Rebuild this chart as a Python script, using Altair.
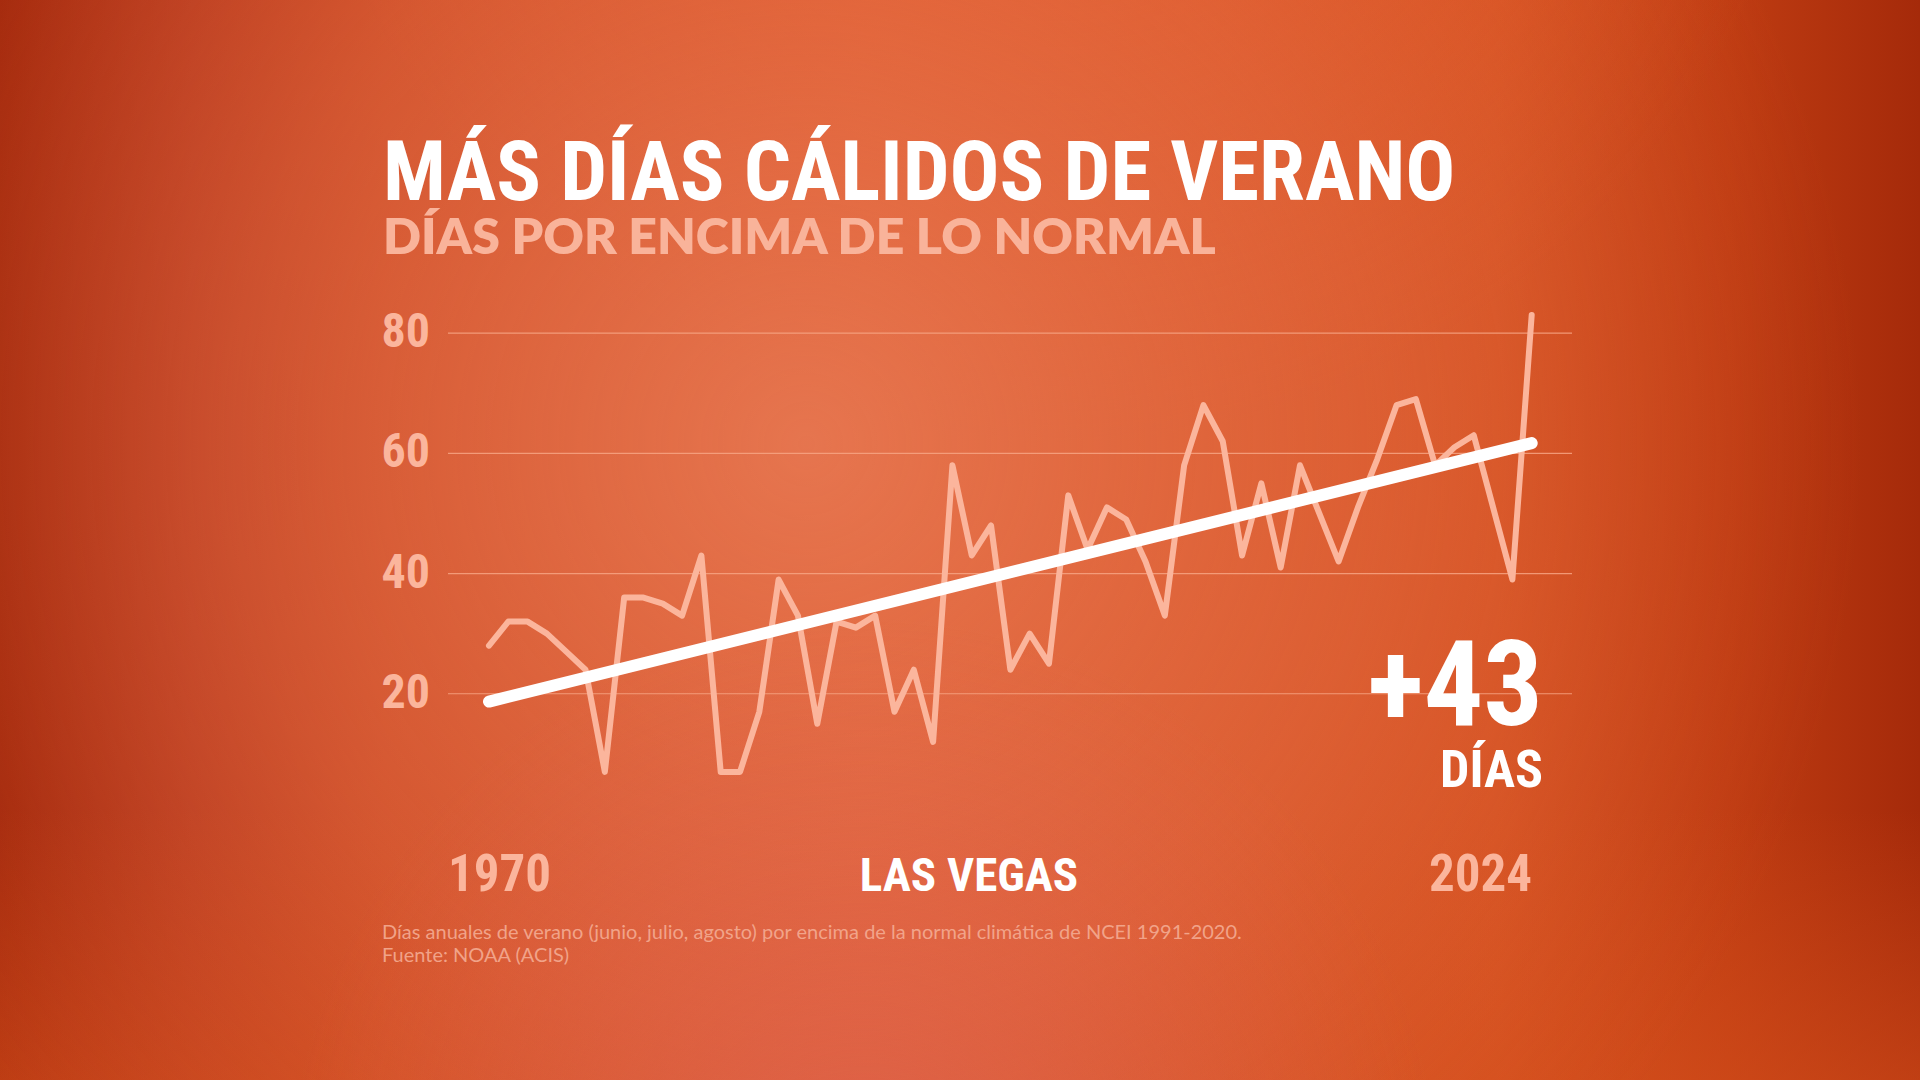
import altair as alt
import pandas as pd

# Summer days above the 1991-2020 normal, Las Vegas
years = list(range(1970, 2025))
days_above = [
    28, 32, 32, 30, 27, 24, 7, 36, 36, 35,
    33, 43, 7, 7, 17, 39, 33, 15, 32, 31,
    33, 17, 24, 12, 58, 43, 48, 24, 30, 25,
    53, 44, 51, 49, 42, 33, 58, 68, 62, 43,
    55, 41, 58, 50, 42, 51, 59, 68, 69, 58,
    61, 63, 51, 39, 83,
]
# Trend line: start value and the total gain shown in the callout
trend_years = [1970, 2024]
trend_start = 18.7
trend_gain = 43
trend_values = [trend_start, trend_start + trend_gain]

y_ticks = [20, 40, 60, 80]

title_text = "MÁS DÍAS CÁLIDOS DE VERANO"
subtitle_text = "DÍAS POR ENCIMA DE LO NORMAL"
place_text = "LAS VEGAS"
gain_text = f"+{trend_gain}"
unit_text = "DÍAS"
note_lines = [
    "Días anuales de verano (junio, julio, agosto) por encima de la normal climática de NCEI 1991-2020.",
    "Fuente: NOAA (ACIS)",
]

W, H = 1124, 511
PAD_L, PAD_T = 448, 303
COND = "Roboto Condensed, Liberation Sans Narrow, DejaVu Sans Condensed, Roboto"
SALMON = "#fbb59c"

series = pd.DataFrame({"year": years, "days": days_above})
trend = pd.DataFrame({"year": trend_years, "days": trend_values})
ticks = pd.DataFrame({"v": y_ticks, "t": [str(v) for v in y_ticks]})

x_scale = alt.Scale(domain=[1967.877, 2026.087], nice=False, zero=False)
y_scale = alt.Scale(domain=[0, 85], nice=False, zero=False)


def one(text):
    return pd.DataFrame({"t": [text]})


def backdrop(fill):
    return alt.Chart(one("")).mark_rect(fill=fill).encode(
        x=alt.value(-PAD_L), x2=alt.value(1920 - PAD_L),
        y=alt.value(-PAD_T), y2=alt.value(1080 - PAD_T),
    )


def stop(color, offset):
    return alt.GradientStop(color=color, offset=offset)


base_fill = alt.LinearGradient(
    gradient="linear", x1=0, y1=0, x2=1, y2=0,
    stops=[
        stop("#9e2408", 0),
        stop("#b4361a", 0.1),
        stop("#c8461f", 0.2),
        stop("#dc5a2c", 0.45),
        stop("#d4511f", 0.78),
        stop("#bf3c12", 0.9),
        stop("#a52a0a", 1),
    ],
)
bottom_fill = alt.LinearGradient(
    gradient="linear", x1=0, y1=0, x2=0, y2=1,
    stops=[
        stop("rgba(214,80,28,0)", 0.75),
        stop("rgba(214,80,28,0.55)", 1),
    ],
)
glow_fill = alt.RadialGradient(
    gradient="radial", x1=0.42, y1=0.45, x2=0.42, y2=0.45, r1=0, r2=0.55,
    stops=[
        stop("rgba(232,122,85,0.85)", 0),
        stop("rgba(228,108,70,0.45)", 0.55),
        stop("rgba(220,90,50,0)", 1),
    ],
)
top_fill = alt.RadialGradient(
    gradient="radial", x1=0.55, y1=0.05, x2=0.55, y2=0.05, r1=0, r2=0.4,
    stops=[
        stop("rgba(232,95,45,0.7)", 0),
        stop("rgba(232,95,45,0)", 1),
    ],
)
low_fill = alt.RadialGradient(
    gradient="radial", x1=0.45, y1=0.84, x2=0.45, y2=0.84, r1=0, r2=0.3,
    stops=[
        stop("rgba(224,102,88,0.65)", 0),
        stop("rgba(224,102,88,0)", 1),
    ],
)


def label(text, x, y, size, color, font=COND, weight="bold", align="left",
          baseline="alphabetic", opacity=1.0):
    return alt.Chart(one(text)).mark_text(
        font=font, fontSize=size, fontWeight=weight, color=color,
        align=align, baseline=baseline, opacity=opacity,
    ).encode(x=alt.value(x), y=alt.value(y), text="t:N")


grid = alt.Chart(ticks).mark_rule(
    color="#f7a584", strokeWidth=1.2, opacity=0.85
).encode(
    y=alt.Y("v:Q", scale=y_scale, axis=None),
    x=alt.value(0), x2=alt.value(W),
)

tick_labels = alt.Chart(ticks).mark_text(
    font=COND, fontSize=48, fontWeight="bold", color=SALMON,
    align="right", baseline="middle",
).encode(
    y=alt.Y("v:Q", scale=y_scale, axis=None),
    x=alt.value(-18),
    text="t:N",
)

line = alt.Chart(series).mark_line(
    color=SALMON, strokeWidth=6, strokeJoin="round", strokeCap="round"
).encode(
    x=alt.X("year:Q", scale=x_scale, axis=None),
    y=alt.Y("days:Q", scale=y_scale, axis=None),
)

trend_line = alt.Chart(trend).mark_line(
    color="white", strokeWidth=12, strokeCap="round"
).encode(
    x=alt.X("year:Q", scale=x_scale, axis=None),
    y=alt.Y("days:Q", scale=y_scale, axis=None),
)

layers = [
    backdrop(base_fill),
    backdrop(bottom_fill),
    backdrop(top_fill),
    backdrop(glow_fill),
    backdrop(low_fill),
    grid,
    tick_labels,
    line,
    trend_line,
    label(title_text, 383 - PAD_L, 200 - PAD_T, 83, "white"),
    label(subtitle_text, 383 - PAD_L, 254 - PAD_T, 50, "#f9b39a",
          font="Lato", weight=800),
    label("1970", 448 - PAD_L, 891 - PAD_T, 51, SALMON),
    label(place_text, 969 - PAD_L, 891 - PAD_T, 47, "white", align="center"),
    label("2024", 1532 - PAD_L, 891 - PAD_T, 51, SALMON, align="right"),
    label(gain_text, 1543 - PAD_L, 725 - PAD_T, 118, "white", align="right"),
    label(unit_text, 1543 - PAD_L, 787 - PAD_T, 52, "white", align="right"),
    label(note_lines[0], 382 - PAD_L, 939 - PAD_T, 20, "#f4ab92",
          font="Lato", weight="normal", opacity=0.9),
    label(note_lines[1], 382 - PAD_L, 962 - PAD_T, 20, "#f4ab92",
          font="Lato", weight="normal", opacity=0.9),
]

chart = alt.layer(*layers).properties(
    width=W, height=H,
    autosize=alt.AutoSizeParams(type="none"),
    padding={"left": PAD_L, "top": PAD_T, "right": 1920 - PAD_L - W,
             "bottom": 1080 - PAD_T - H},
    background="#c44520",
).configure_view(strokeWidth=0)

chart.save("out.html", embed_options={"renderer": "svg", "actions": False})
